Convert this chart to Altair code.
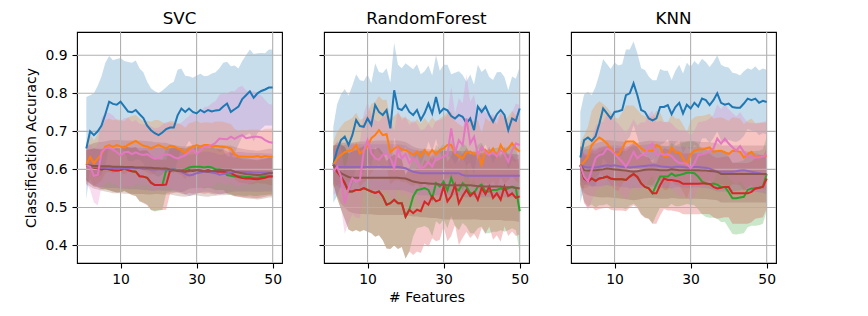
import altair as alt
import pandas as pd

X = list(range(1, 51))
CLASSIFIERS = ["SVC", "RandomForest", "KNN"]
SERIES = ["Set 1", "Set 2", "Set 3", "Set 4", "Set 5", "Set 6", "Set 7"]
COLORS = ["#1f77b4", "#ff7f0e", "#2ca02c", "#d62728", "#9467bd", "#8c564b", "#e377c2"]
X_TICKS = [10, 30, 50]
Y_TICKS = [0.4, 0.5, 0.6, 0.7, 0.8, 0.9]

# ---------------- SVC ----------------
SVC_BLUE = [0.655,0.700,0.690,0.700,0.715,0.745,0.778,0.772,0.770,0.778,
            0.765,0.752,0.750,0.756,0.745,0.735,0.715,0.703,0.695,0.690,
            0.697,0.706,0.710,0.710,0.742,0.760,0.751,0.760,0.751,0.747,
            0.756,0.750,0.756,0.752,0.755,0.756,0.765,0.773,0.751,0.758,
            0.765,0.785,0.795,0.805,0.788,0.800,0.806,0.810,0.815,0.815]
SVC_BLUE_SD = [0.135,0.095,0.110,0.120,0.130,0.135,0.120,0.115,0.120,0.115,
               0.120,0.130,0.130,0.130,0.120,0.120,0.115,0.110,0.110,0.110,
               0.110,0.110,0.115,0.120,0.120,0.105,0.095,0.085,0.090,0.100,
               0.095,0.095,0.090,0.100,0.100,0.110,0.115,0.110,0.120,0.115,
               0.100,0.100,0.105,0.110,0.115,0.105,0.100,0.095,0.100,0.100]
SVC_ORANGE = [0.611,0.633,0.616,0.628,0.640,0.660,0.664,0.659,0.664,0.660,
              0.657,0.665,0.670,0.675,0.668,0.662,0.660,0.655,0.660,0.664,
              0.660,0.655,0.662,0.661,0.655,0.651,0.642,0.655,0.660,0.664,
              0.660,0.664,0.664,0.660,0.662,0.660,0.659,0.658,0.655,0.640,
              0.634,0.634,0.633,0.633,0.633,0.635,0.632,0.635,0.633,0.633]
SVC_ORANGE_SD = [0.050,0.060,0.060,0.065,0.070,0.070,0.070,0.070,0.068,0.070,
                 0.070,0.072,0.070,0.068,0.066,0.065,0.068,0.070,0.070,0.066,
                 0.064,0.065,0.066,0.065,0.066,0.066,0.068,0.066,0.064,0.064,
                 0.062,0.060,0.060,0.062,0.064,0.066,0.066,0.064,0.064,0.066,
                 0.068,0.070,0.070,0.072,0.072,0.070,0.070,0.072,0.074,0.075]
SVC_GREEN = [0.611,0.608,0.605,0.603,0.600,0.602,0.600,0.598,0.597,0.598,
             0.603,0.598,0.595,0.594,0.582,0.581,0.578,0.565,0.559,0.559,
             0.559,0.598,0.598,0.600,0.598,0.598,0.600,0.605,0.607,0.607,
             0.607,0.605,0.607,0.605,0.600,0.600,0.598,0.585,0.583,0.581,
             0.582,0.581,0.580,0.580,0.578,0.578,0.580,0.581,0.582,0.582]
SVC_GREEN_SD = [0.040,0.045,0.050,0.050,0.052,0.054,0.055,0.056,0.058,0.058,
                0.060,0.060,0.062,0.064,0.066,0.068,0.070,0.072,0.070,0.068,
                0.066,0.060,0.058,0.058,0.058,0.058,0.056,0.056,0.056,0.056,
                0.055,0.055,0.055,0.055,0.055,0.054,0.052,0.050,0.050,0.050,
                0.050,0.050,0.050,0.048,0.048,0.048,0.048,0.048,0.048,0.048]
SVC_RED = [0.611,0.608,0.605,0.603,0.600,0.602,0.600,0.598,0.597,0.598,
           0.603,0.598,0.595,0.594,0.582,0.581,0.578,0.565,0.559,0.559,
           0.559,0.560,0.596,0.598,0.598,0.596,0.594,0.598,0.596,0.598,
           0.598,0.596,0.598,0.595,0.594,0.594,0.594,0.592,0.590,0.585,
           0.580,0.577,0.576,0.576,0.575,0.574,0.576,0.578,0.581,0.581]
SVC_RED_SD = [0.040,0.045,0.050,0.050,0.052,0.054,0.055,0.056,0.058,0.058,
              0.060,0.060,0.062,0.064,0.066,0.070,0.072,0.072,0.068,0.066,
              0.066,0.066,0.060,0.060,0.058,0.060,0.060,0.060,0.060,0.060,
              0.060,0.060,0.060,0.060,0.060,0.058,0.058,0.055,0.055,0.054,
              0.052,0.050,0.050,0.050,0.050,0.050,0.050,0.050,0.050,0.050]
SVC_PURPLE = [0.611,0.607,0.606,0.605,0.604,0.604,0.603,0.603,0.604,0.603,
              0.603,0.602,0.602,0.603,0.602,0.601,0.601,0.600,0.600,0.601,
              0.600,0.600,0.599,0.600,0.598,0.594,0.588,0.584,0.586,0.590,
              0.592,0.594,0.594,0.592,0.590,0.586,0.588,0.590,0.592,0.594,
              0.594,0.594,0.593,0.593,0.592,0.592,0.592,0.592,0.592,0.592]
SVC_PURPLE_SD = [0.040,0.045,0.048,0.050,0.050,0.052,0.052,0.052,0.053,0.053,
                 0.054,0.054,0.054,0.055,0.055,0.055,0.056,0.056,0.056,0.056,
                 0.056,0.056,0.055,0.055,0.055,0.054,0.054,0.054,0.054,0.054,
                 0.053,0.053,0.053,0.053,0.053,0.052,0.052,0.052,0.052,0.052,
                 0.052,0.052,0.051,0.051,0.051,0.051,0.051,0.050,0.050,0.050]
SVC_BROWN = [0.611,0.610,0.609,0.609,0.608,0.608,0.608,0.607,0.607,0.607,
             0.606,0.606,0.606,0.605,0.605,0.605,0.604,0.604,0.603,0.603,
             0.602,0.602,0.600,0.598,0.596,0.595,0.594,0.596,0.598,0.598,
             0.596,0.595,0.594,0.596,0.597,0.598,0.598,0.598,0.598,0.594,
             0.592,0.590,0.588,0.587,0.586,0.585,0.586,0.588,0.590,0.590]
SVC_BROWN_SD = [0.050,0.055,0.060,0.062,0.064,0.066,0.068,0.070,0.070,0.070,
                0.070,0.070,0.070,0.070,0.070,0.070,0.070,0.070,0.068,0.068,
                0.068,0.068,0.066,0.066,0.066,0.066,0.066,0.066,0.066,0.066,
                0.066,0.066,0.066,0.066,0.066,0.066,0.066,0.065,0.065,0.065,
                0.064,0.064,0.064,0.064,0.064,0.064,0.064,0.064,0.064,0.064]
SVC_PINK = [0.611,0.607,0.583,0.585,0.645,0.655,0.658,0.652,0.645,0.637,
            0.645,0.646,0.640,0.645,0.640,0.638,0.640,0.633,0.628,0.630,
            0.637,0.640,0.638,0.632,0.629,0.633,0.637,0.645,0.651,0.640,
            0.650,0.659,0.660,0.664,0.670,0.681,0.680,0.679,0.686,0.680,
            0.686,0.690,0.682,0.684,0.686,0.686,0.684,0.677,0.672,0.670]
SVC_PINK_SD = [0.050,0.060,0.070,0.080,0.090,0.095,0.090,0.090,0.085,0.090,
               0.090,0.090,0.085,0.085,0.080,0.080,0.080,0.080,0.080,0.080,
               0.080,0.085,0.085,0.090,0.090,0.090,0.095,0.095,0.100,0.100,
               0.100,0.105,0.105,0.110,0.110,0.115,0.120,0.120,0.120,0.125,
               0.130,0.130,0.125,0.120,0.120,0.115,0.110,0.105,0.100,0.100]

# ---------------- RandomForest ----------------
RF_BLUE = [0.612,0.651,0.677,0.686,0.664,0.690,0.730,0.714,0.712,0.734,
           0.717,0.769,0.751,0.743,0.756,0.708,0.808,0.760,0.756,0.769,
           0.751,0.743,0.756,0.730,0.748,0.773,0.747,0.790,0.749,0.760,
           0.755,0.740,0.734,0.743,0.738,0.721,0.734,0.703,0.765,0.751,
           0.765,0.743,0.725,0.745,0.756,0.743,0.703,0.734,0.728,0.760]
RF_BLUE_SD = [0.100,0.120,0.120,0.125,0.130,0.130,0.120,0.120,0.120,0.115,
              0.110,0.110,0.105,0.110,0.110,0.120,0.125,0.115,0.110,0.110,
              0.120,0.120,0.120,0.120,0.110,0.100,0.100,0.110,0.110,0.115,
              0.120,0.110,0.120,0.115,0.110,0.110,0.115,0.120,0.110,0.105,
              0.100,0.100,0.110,0.110,0.100,0.100,0.105,0.110,0.110,0.110]
RF_ORANGE = [0.612,0.629,0.638,0.645,0.649,0.651,0.664,0.642,0.650,0.660,
             0.682,0.690,0.703,0.690,0.693,0.645,0.655,0.660,0.652,0.651,
             0.645,0.638,0.647,0.634,0.651,0.638,0.651,0.640,0.651,0.655,
             0.664,0.664,0.642,0.635,0.629,0.645,0.647,0.640,0.645,0.612,
             0.651,0.640,0.655,0.634,0.664,0.647,0.655,0.669,0.655,0.647]
RF_ORANGE_SD = [0.060,0.070,0.075,0.080,0.080,0.085,0.085,0.088,0.085,0.088,
                0.090,0.088,0.090,0.092,0.090,0.085,0.085,0.088,0.085,0.084,
                0.085,0.083,0.085,0.086,0.085,0.084,0.086,0.085,0.083,0.085,
                0.086,0.088,0.085,0.084,0.083,0.085,0.086,0.085,0.084,0.083,
                0.085,0.086,0.085,0.084,0.086,0.085,0.084,0.085,0.086,0.085]
RF_GREEN = [0.612,0.594,0.581,0.564,0.542,0.542,0.546,0.546,0.551,0.546,
            0.542,0.538,0.542,0.529,0.507,0.511,0.520,0.511,0.511,0.476,
            0.494,0.529,0.546,0.548,0.551,0.546,0.524,0.564,0.555,0.568,
            0.545,0.577,0.551,0.545,0.564,0.555,0.537,0.537,0.555,0.560,
            0.542,0.542,0.546,0.546,0.550,0.546,0.550,0.555,0.550,0.490]
RF_GREEN_SD = [0.050,0.070,0.085,0.095,0.100,0.105,0.105,0.110,0.110,0.110,
               0.110,0.115,0.115,0.115,0.115,0.120,0.120,0.120,0.115,0.110,
               0.110,0.105,0.100,0.100,0.100,0.100,0.100,0.100,0.100,0.100,
               0.100,0.100,0.100,0.105,0.105,0.105,0.105,0.105,0.110,0.110,
               0.110,0.110,0.110,0.110,0.110,0.110,0.110,0.110,0.110,0.110]
RF_RED = [0.612,0.594,0.581,0.564,0.542,0.542,0.546,0.546,0.551,0.546,
          0.542,0.538,0.542,0.529,0.507,0.511,0.520,0.511,0.511,0.476,
          0.494,0.485,0.494,0.490,0.515,0.507,0.529,0.516,0.520,0.555,
          0.516,0.530,0.559,0.511,0.530,0.546,0.530,0.540,0.520,0.551,
          0.535,0.555,0.525,0.537,0.520,0.555,0.530,0.537,0.525,0.529]
RF_RED_SD = [0.050,0.070,0.085,0.095,0.100,0.105,0.105,0.110,0.110,0.110,
             0.110,0.115,0.115,0.115,0.115,0.120,0.120,0.120,0.115,0.110,
             0.110,0.110,0.110,0.110,0.110,0.110,0.110,0.105,0.105,0.105,
             0.105,0.105,0.105,0.110,0.110,0.110,0.110,0.110,0.105,0.105,
             0.105,0.105,0.110,0.110,0.110,0.105,0.105,0.100,0.100,0.100]
RF_PURPLE = [0.612,0.606,0.606,0.606,0.606,0.606,0.606,0.606,0.606,0.606,
             0.606,0.606,0.606,0.606,0.606,0.606,0.606,0.606,0.605,0.603,
             0.598,0.594,0.592,0.590,0.590,0.590,0.590,0.590,0.590,0.590,
             0.590,0.590,0.590,0.590,0.585,0.583,0.583,0.583,0.583,0.583,
             0.583,0.583,0.583,0.583,0.583,0.583,0.583,0.583,0.583,0.583]
RF_PURPLE_SD = [0.040,0.050,0.055,0.058,0.060,0.060,0.060,0.060,0.060,0.060,
                0.060,0.060,0.060,0.060,0.060,0.060,0.060,0.060,0.060,0.060,
                0.058,0.058,0.058,0.058,0.058,0.058,0.058,0.058,0.058,0.058,
                0.058,0.058,0.058,0.058,0.056,0.056,0.056,0.056,0.056,0.056,
                0.056,0.056,0.056,0.056,0.056,0.056,0.056,0.056,0.056,0.056]
RF_BROWN = [0.612,0.600,0.590,0.585,0.580,0.578,0.578,0.578,0.578,0.578,
            0.578,0.578,0.578,0.578,0.578,0.578,0.578,0.578,0.577,0.576,
            0.572,0.568,0.566,0.564,0.564,0.563,0.562,0.562,0.560,0.559,
            0.558,0.558,0.558,0.558,0.558,0.558,0.558,0.557,0.556,0.555,
            0.555,0.555,0.555,0.555,0.555,0.553,0.553,0.553,0.552,0.550]
RF_BROWN_SD = [0.050,0.070,0.080,0.085,0.090,0.092,0.094,0.095,0.095,0.096,
               0.096,0.097,0.098,0.098,0.098,0.098,0.098,0.098,0.097,0.096,
               0.094,0.092,0.090,0.090,0.090,0.090,0.090,0.090,0.090,0.090,
               0.090,0.090,0.090,0.090,0.090,0.090,0.090,0.088,0.088,0.088,
               0.088,0.088,0.088,0.088,0.088,0.088,0.088,0.088,0.088,0.088]
RF_PINK = [0.594,0.607,0.581,0.511,0.550,0.577,0.568,0.572,0.647,0.677,
           0.642,0.629,0.625,0.638,0.642,0.630,0.603,0.655,0.629,0.640,
           0.616,0.630,0.620,0.603,0.607,0.620,0.607,0.629,0.629,0.634,
           0.638,0.708,0.642,0.677,0.664,0.734,0.668,0.686,0.638,0.660,
           0.645,0.638,0.645,0.634,0.650,0.640,0.620,0.650,0.668,0.664]
RF_PINK_SD = [0.060,0.070,0.080,0.080,0.090,0.095,0.095,0.100,0.100,0.100,
              0.100,0.100,0.100,0.100,0.100,0.100,0.100,0.100,0.100,0.100,
              0.100,0.100,0.100,0.100,0.100,0.100,0.100,0.100,0.100,0.100,
              0.105,0.110,0.105,0.110,0.110,0.115,0.110,0.110,0.105,0.105,
              0.105,0.105,0.100,0.100,0.100,0.100,0.100,0.100,0.105,0.105]

# ---------------- KNN ----------------
KNN_BLUE = [0.631,0.677,0.684,0.675,0.687,0.720,0.760,0.747,0.734,0.751,
            0.753,0.756,0.795,0.800,0.826,0.795,0.756,0.751,0.734,0.729,
            0.734,0.764,0.764,0.769,0.745,0.764,0.775,0.747,0.770,0.760,
            0.775,0.765,0.786,0.782,0.769,0.782,0.800,0.775,0.770,0.773,
            0.764,0.762,0.762,0.773,0.786,0.782,0.786,0.775,0.780,0.777]
KNN_BLUE_SD = [0.120,0.120,0.120,0.120,0.130,0.130,0.130,0.130,0.130,0.130,
               0.120,0.120,0.120,0.115,0.110,0.110,0.110,0.110,0.110,0.105,
               0.100,0.100,0.095,0.090,0.090,0.095,0.100,0.105,0.110,0.110,
               0.110,0.110,0.105,0.100,0.100,0.100,0.100,0.100,0.100,0.095,
               0.090,0.090,0.085,0.085,0.080,0.080,0.085,0.085,0.085,0.085]
KNN_ORANGE = [0.611,0.620,0.633,0.664,0.675,0.684,0.677,0.668,0.655,0.642,
              0.638,0.655,0.673,0.673,0.673,0.665,0.655,0.649,0.649,0.649,
              0.664,0.659,0.635,0.635,0.658,0.646,0.646,0.629,0.611,0.640,
              0.649,0.652,0.652,0.655,0.658,0.646,0.648,0.649,0.645,0.640,
              0.649,0.648,0.646,0.631,0.640,0.646,0.633,0.635,0.635,0.635]
KNN_ORANGE_SD = [0.060,0.070,0.080,0.090,0.095,0.095,0.095,0.095,0.095,0.095,
                 0.095,0.095,0.095,0.095,0.095,0.092,0.090,0.090,0.090,0.090,
                 0.090,0.090,0.090,0.088,0.088,0.088,0.088,0.088,0.088,0.088,
                 0.088,0.088,0.088,0.088,0.088,0.088,0.088,0.088,0.088,0.088,
                 0.088,0.088,0.088,0.088,0.088,0.088,0.088,0.088,0.088,0.088]
KNN_GREEN = [0.611,0.576,0.568,0.576,0.570,0.576,0.578,0.581,0.576,0.574,
             0.574,0.574,0.572,0.581,0.588,0.580,0.563,0.554,0.550,0.537,
             0.560,0.581,0.581,0.581,0.589,0.583,0.585,0.588,0.591,0.591,
             0.590,0.581,0.568,0.563,0.561,0.563,0.560,0.554,0.554,0.540,
             0.524,0.524,0.526,0.528,0.546,0.550,0.550,0.551,0.555,0.588]
KNN_GREEN_SD = [0.050,0.060,0.065,0.068,0.070,0.070,0.072,0.072,0.074,0.074,
                0.075,0.075,0.076,0.076,0.078,0.078,0.080,0.080,0.080,0.080,
                0.080,0.080,0.080,0.080,0.080,0.080,0.082,0.082,0.082,0.084,
                0.084,0.086,0.086,0.088,0.088,0.090,0.090,0.092,0.092,0.094,
                0.094,0.095,0.095,0.096,0.098,0.098,0.098,0.098,0.098,0.098]
KNN_RED = [0.611,0.576,0.568,0.576,0.570,0.576,0.578,0.581,0.576,0.574,
           0.574,0.574,0.572,0.581,0.588,0.580,0.563,0.554,0.550,0.537,
           0.537,0.559,0.576,0.572,0.572,0.570,0.568,0.562,0.562,0.562,
           0.562,0.562,0.563,0.563,0.562,0.554,0.550,0.552,0.554,0.554,
           0.537,0.537,0.537,0.537,0.537,0.541,0.550,0.552,0.554,0.576]
KNN_RED_SD = [0.050,0.065,0.070,0.075,0.078,0.080,0.080,0.080,0.082,0.082,
              0.082,0.082,0.082,0.082,0.082,0.082,0.082,0.082,0.080,0.080,
              0.080,0.080,0.080,0.080,0.080,0.080,0.080,0.080,0.080,0.080,
              0.080,0.080,0.080,0.080,0.080,0.080,0.080,0.080,0.080,0.080,
              0.080,0.080,0.080,0.080,0.080,0.080,0.080,0.080,0.080,0.080]
KNN_PURPLE = [0.611,0.607,0.605,0.605,0.605,0.607,0.609,0.611,0.609,0.611,
              0.609,0.607,0.607,0.605,0.606,0.607,0.608,0.609,0.610,0.611,
              0.610,0.608,0.607,0.606,0.605,0.607,0.607,0.606,0.605,0.605,
              0.606,0.606,0.605,0.604,0.602,0.598,0.594,0.594,0.594,0.594,
              0.594,0.595,0.597,0.598,0.596,0.594,0.592,0.590,0.588,0.585]
KNN_PURPLE_SD = [0.040,0.045,0.048,0.050,0.050,0.052,0.052,0.052,0.053,0.053,
                 0.054,0.054,0.054,0.055,0.055,0.055,0.056,0.056,0.056,0.056,
                 0.056,0.056,0.055,0.055,0.055,0.054,0.054,0.054,0.054,0.054,
                 0.053,0.053,0.053,0.053,0.053,0.052,0.052,0.052,0.052,0.052,
                 0.052,0.052,0.051,0.051,0.051,0.051,0.051,0.050,0.050,0.050]
KNN_BROWN = [0.611,0.598,0.597,0.598,0.598,0.599,0.600,0.602,0.601,0.600,
             0.599,0.598,0.597,0.595,0.594,0.595,0.597,0.599,0.600,0.600,
             0.599,0.598,0.598,0.598,0.600,0.599,0.598,0.598,0.598,0.598,
             0.598,0.598,0.597,0.597,0.596,0.595,0.594,0.588,0.588,0.588,
             0.588,0.588,0.588,0.588,0.588,0.588,0.588,0.588,0.588,0.588]
KNN_BROWN_SD = [0.050,0.060,0.065,0.068,0.070,0.072,0.074,0.075,0.075,0.075,
                0.075,0.075,0.075,0.075,0.075,0.075,0.075,0.075,0.075,0.075,
                0.075,0.075,0.075,0.075,0.075,0.075,0.075,0.075,0.075,0.075,
                0.075,0.075,0.075,0.075,0.075,0.075,0.075,0.075,0.075,0.075,
                0.075,0.075,0.075,0.075,0.075,0.075,0.075,0.075,0.075,0.075]
KNN_PINK = [0.611,0.581,0.568,0.598,0.629,0.638,0.640,0.655,0.650,0.640,
            0.630,0.620,0.607,0.625,0.646,0.629,0.638,0.638,0.659,0.668,
            0.638,0.642,0.638,0.640,0.635,0.624,0.617,0.616,0.615,0.603,
            0.616,0.638,0.640,0.642,0.648,0.655,0.681,0.668,0.681,0.668,
            0.658,0.649,0.661,0.646,0.633,0.632,0.631,0.631,0.634,0.638]
KNN_PINK_SD = [0.050,0.065,0.075,0.080,0.085,0.085,0.085,0.090,0.090,0.090,
               0.090,0.088,0.088,0.088,0.086,0.086,0.086,0.086,0.086,0.086,
               0.086,0.086,0.086,0.086,0.086,0.086,0.086,0.086,0.086,0.086,
               0.086,0.086,0.086,0.086,0.086,0.088,0.090,0.090,0.090,0.090,
               0.090,0.090,0.090,0.090,0.090,0.090,0.090,0.090,0.090,0.090]

MEANS = {
    "SVC": [SVC_BLUE, SVC_ORANGE, SVC_GREEN, SVC_RED, SVC_PURPLE, SVC_BROWN, SVC_PINK],
    "RandomForest": [RF_BLUE, RF_ORANGE, RF_GREEN, RF_RED, RF_PURPLE, RF_BROWN, RF_PINK],
    "KNN": [KNN_BLUE, KNN_ORANGE, KNN_GREEN, KNN_RED, KNN_PURPLE, KNN_BROWN, KNN_PINK],
}
SDS = {
    "SVC": [SVC_BLUE_SD, SVC_ORANGE_SD, SVC_GREEN_SD, SVC_RED_SD, SVC_PURPLE_SD, SVC_BROWN_SD, SVC_PINK_SD],
    "RandomForest": [RF_BLUE_SD, RF_ORANGE_SD, RF_GREEN_SD, RF_RED_SD, RF_PURPLE_SD, RF_BROWN_SD, RF_PINK_SD],
    "KNN": [KNN_BLUE_SD, KNN_ORANGE_SD, KNN_GREEN_SD, KNN_RED_SD, KNN_PURPLE_SD, KNN_BROWN_SD, KNN_PINK_SD],
}

rows = []
for clf in CLASSIFIERS:
    for s, m, sd in zip(SERIES, MEANS[clf], SDS[clf]):
        for xv, mv, sv in zip(X, m, sd):
            rows.append({"clf": clf, "series": s, "x": xv, "mean": mv,
                         "lo": mv - sv, "hi": mv + sv})
df = pd.DataFrame(rows)

FONT = "DejaVu Sans"
XS = alt.Scale(domain=[-1.45, 52.45], nice=False, zero=False)
YS = alt.Scale(domain=[0.354, 0.961], nice=False, zero=False)


def make_axes(i):
    xkw = dict(values=X_TICKS, grid=False, domain=False, tickSize=5, tickColor="black",
               tickWidth=1.1, labelFont=FONT, labelFontSize=13.9, labelColor="black",
               labelPadding=4, labelAngle=0, titleFont=FONT, titleFontSize=13.9,
               titleFontWeight="normal", titleColor="black", titlePadding=5)
    ykw = dict(values=Y_TICKS, format=".1f", grid=False, domain=False, tickSize=5,
               tickColor="black", tickWidth=1.1, labelFont=FONT, labelFontSize=13.9,
               labelColor="black", labelPadding=5, labels=(i == 0), titleFont=FONT,
               titleFontSize=13.9, titleFontWeight="normal", titleColor="black",
               titlePadding=6)
    xaxis = alt.Axis(title="# Features" if i == 1 else None, **xkw)
    yaxis = alt.Axis(title="Classification Accuracy" if i == 0 else None, **ykw)
    return xaxis, yaxis


def panel(i, clf):
    d = df[df["clf"] == clf]
    xaxis, yaxis = make_axes(i)
    layers = []
    for s, c in zip(SERIES, COLORS):
        layers.append(
            alt.Chart(d).transform_filter(alt.datum.series == s)
            .mark_area(color=c, opacity=0.25, clip=True)
            .encode(x=alt.X("x:Q", scale=XS, axis=xaxis),
                    y=alt.Y("lo:Q", scale=YS, axis=yaxis),
                    y2="hi:Q")
        )
    layers.append(
        alt.Chart(pd.DataFrame({"gx": X_TICKS}))
        .mark_rule(color="#b0b0b0", strokeWidth=1.1)
        .encode(x=alt.X("gx:Q", scale=XS, axis=xaxis))
    )
    layers.append(
        alt.Chart(pd.DataFrame({"gy": Y_TICKS}))
        .mark_rule(color="#b0b0b0", strokeWidth=1.1)
        .encode(y=alt.Y("gy:Q", scale=YS, axis=yaxis))
    )
    for s, c in zip(SERIES, COLORS):
        layers.append(
            alt.Chart(d).transform_filter(alt.datum.series == s)
            .mark_line(color=c, strokeWidth=2, clip=True)
            .encode(x=alt.X("x:Q", scale=XS, axis=xaxis),
                    y=alt.Y("mean:Q", scale=YS, axis=yaxis))
        )
    return alt.layer(*layers).properties(
        width=205, height=231,
        title=alt.TitleParams(clf, font=FONT, fontSize=16.7, fontWeight="normal",
                              color="black", anchor="middle", offset=-9,
                              baseline="alphabetic"),
    )


chart = alt.hconcat(*[panel(i, c) for i, c in enumerate(CLASSIFIERS)], spacing=33)
chart = chart.properties(
    padding={"left": 16, "top": 2, "right": 5, "bottom": 5}
).configure(
    font=FONT,
    view=alt.ViewConfig(stroke="black", strokeWidth=1.1),
)

chart.save("out.html", embed_options={"renderer": "svg", "actions": False})
